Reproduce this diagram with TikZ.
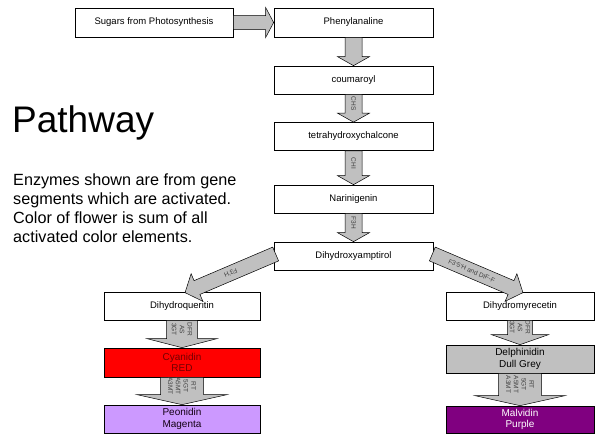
\documentclass[tikz,border=0pt]{standalone}
\usepackage{fontspec}
\setmainfont{Liberation Sans}
\usetikzlibrary{calc}

\definecolor{arrowgrey}{HTML}{C0C0C0}
\definecolor{labelgrey}{HTML}{404040}
\definecolor{peonidin}{HTML}{CC99FF}
\definecolor{malvidin}{HTML}{800080}
\definecolor{delphinidin}{HTML}{C0C0C0}
\definecolor{cyanidin}{HTML}{FF0000}

\tikzset{
  stepbox/.style={draw, line width=0.7pt, minimum width=159pt, minimum height=28pt,
    inner sep=0pt, align=center, font=\fontsize{9.5}{11.5}\selectfont},
  colorbox/.style={stepbox, minimum width=156pt, font=\fontsize{10}{11.5}\selectfont},
  flowarrow/.style={draw, fill=arrowgrey, line width=0.5pt},
  enzyme/.style={text=labelgrey, inner sep=0pt, align=center, font=\fontsize{6.5}{7.8}\selectfont},
}

% block arrow: [label style]{from}{to}{half shaft}{half head}{head length}{label}
\newcommand{\blockarrow}[7][]{%
  \path let \p1=($(#3)-(#2)$) in \pgfextra{%
    \pgfmathsetmacro\tmplen{veclen(\x1,\y1)}%
    \pgfmathsetmacro\tmpang{atan2(\y1,\x1)}%
    \xdef\arrlen{\tmplen}\xdef\arrang{\tmpang}};
  \begin{scope}[shift={(#2)}, rotate=\arrang]
    \draw[flowarrow] (0,#4) -- ({\arrlen-#6},#4) -- ({\arrlen-#6},#5) -- (\arrlen,0)
      -- ({\arrlen-#6},-#5) -- ({\arrlen-#6},-#4) -- (0,-#4) -- cycle;
    \node[enzyme, rotate=\arrang, #1] at ({(\arrlen-#6)/2},0) {#7};
  \end{scope}}

\begin{document}
\begin{tikzpicture}[x=1pt, y=-1pt]
  \useasboundingbox (0,0) rectangle (595,434);

  % main chain
  \node[stepbox, minimum width=158pt, minimum height=29pt] (sugars) at (154,22.5) {Sugars from Photosynthesis};
  \node[stepbox, minimum height=29pt] (phe) at (353.5,22.5) {Phenylanaline};
  \node[stepbox] (cou) at (353.5,80) {coumaroyl};
  \node[stepbox] (tet) at (353.5,136.5) {tetrahydroxychalcone};
  \node[stepbox] (nar) at (353.5,199) {Narinigenin};
  \node[stepbox] (dhk) at (353.5,256) {Dihydroxyamptirol};

  % left branch
  \node[colorbox, font=\fontsize{9.5}{11.5}\selectfont] (dhq) at (182,306) {Dihydroqueritin};
  \node[colorbox, fill=cyanidin, text=red!45!black, minimum height=29pt] (cya) at (182,362.5) {Cyanidin\\RED};
  \node[colorbox, fill=peonidin, text=black!85!violet] (peo) at (182,419) {Peonidin\\Magenta};

  % right branch
  \node[colorbox, minimum width=148pt, font=\fontsize{9.5}{11.5}\selectfont] (dhm) at (520,306) {Dihydromyrecetin};
  \node[colorbox, minimum width=148pt, fill=delphinidin] (del) at (520,359) {Delphinidin\\Dull Grey};
  \node[colorbox, minimum width=148pt, fill=malvidin, text=white, minimum height=27pt] (mal) at (520,419.5) {Malvidin\\Purple};

  % texts
  \node[anchor=base west, inner sep=0pt, font=\fontsize{37}{44}\selectfont] (title) at (12,132) {Pathway};
  \node[anchor=north west, inner sep=0pt, align=left, font=\fontsize{16.2}{19}\selectfont] (note) at (13,174)
    {Enzymes shown are from gene\\segments which are activated.\\Color of flower is sum of all\\activated color elements.};

  % arrows
  \coordinate (f3hs) at ($(dhk.west)+(2,-2)$);
  \coordinate (f3he) at ($(dhq.north)+(3,1)$);
  \coordinate (f35s) at ($(dhk.east)+(-1,-2)$);
  \coordinate (f35e) at ($(dhm.north)+(3,1)$);

  \blockarrow{sugars.east}{phe.west}{7}{15}{8}{}
  \blockarrow{phe.south}{cou.north}{8.5}{16}{9}{}
  \blockarrow{cou.south}{tet.north}{8.5}{16}{9}{CHS}
  \blockarrow{tet.south}{nar.north}{8.5}{16}{9}{CHI}
  \blockarrow{nar.south}{dhk.north}{8.5}{16}{9}{F3H}
  \blockarrow[font=\fontsize{6.5}{8}\selectfont, xshift=6pt]{f3hs}{f3he}{7.5}{15}{13}{F3'H}
  \blockarrow[font=\fontsize{6.5}{8}\selectfont]{f35s}{f35e}{7.5}{15}{13}{F3'5'H and DIF-F}
  \blockarrow{dhq.south}{cya.north}{15.5}{35}{9}{DFR\\AS\\3GT}
  \blockarrow{cya.south}{peo.north}{21.5}{45}{10}{RT\\5GT\\A5MT\\A3MT}
  \blockarrow{dhm.south}{del.north}{12.5}{28.5}{10}{DFR\\AS\\3GT}
  \blockarrow{del.south}{mal.north}{21.5}{45}{10}{RT\\5GT\\A5MT\\A3MT}
\end{tikzpicture}
\end{document}
